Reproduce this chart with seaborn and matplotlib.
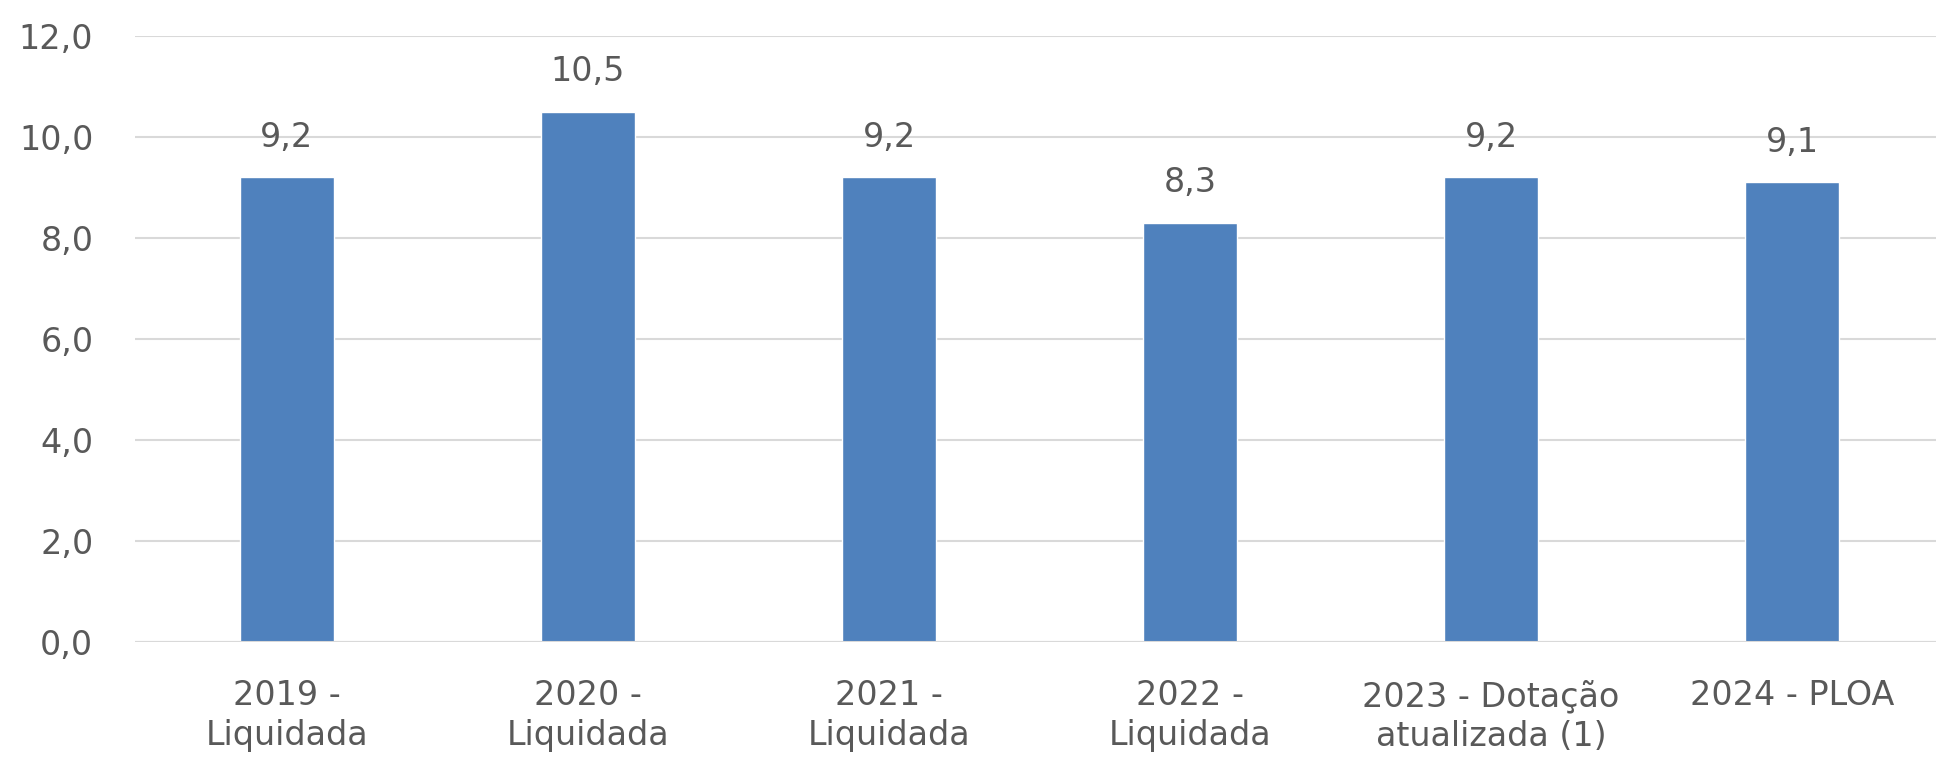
import pandas as pd
import seaborn as sns
import matplotlib.pyplot as plt

# Data
categories = ["2019 -\nLiquidada", "2020 -\nLiquidada", "2021 -\nLiquidada",
              "2022 -\nLiquidada", "2023 - Dotação\natualizada (1)", "2024 - PLOA"]
values = [9.2, 10.5, 9.2, 8.3, 9.2, 9.1]
yticks = [0, 2, 4, 6, 8, 10, 12]

df = pd.DataFrame({"categoria": categories, "valor": values})

sns.set_style("white")
plt.rcParams["font.family"] = ["DejaVu Sans"]

text_color = "#595959"
bar_color = "#4F81BD"
fs = 24

fig = plt.figure(figsize=(19.36, 7.63), dpi=100)
ax = fig.add_axes([0.0697, 0.1586, 0.9303, 0.7942])

sns.barplot(data=df, x="categoria", y="valor", color=bar_color,
            saturation=1, width=0.312, ax=ax)

ax.set_ylim(0, 12)
ax.set_xlim(-0.505, 5.478)
ax.set_yticks(yticks)
ax.set_yticklabels([f"{v:.1f}".replace(".", ",") for v in yticks])
ax.yaxis.grid(True, color="#D9D9D9", linewidth=1.5)
ax.set_axisbelow(True)

for lbl in ax.get_xticklabels():
    lbl.set_linespacing(1.25)

ax.tick_params(axis="y", length=0, pad=30, labelsize=fs, labelcolor=text_color)
ax.tick_params(axis="x", length=0, pad=27, labelsize=fs, labelcolor=text_color)
ax.set_xlabel("")
ax.set_ylabel("")

ax.bar_label(ax.containers[0], labels=[f"{v:.1f}".replace(".", ",") for v in values],
             padding=17, fontsize=fs, color=text_color)

sns.despine(left=True, bottom=True, top=True, right=True)
ax.axhline(0, color="#D9D9D9", linewidth=1.5)

fig.savefig("out.png", dpi=100)
